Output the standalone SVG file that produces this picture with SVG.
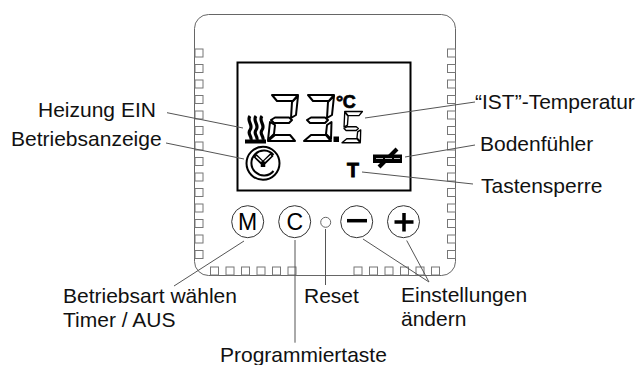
<svg xmlns="http://www.w3.org/2000/svg" width="640" height="365" viewBox="0 0 640 365">
<style>
text{font-family:"Liberation Sans",Arial,sans-serif;font-size:21px;fill:#111}
.b{fill:#fff;stroke:#777;stroke-width:1}
.l{fill:none;stroke:#555;stroke-width:1}
.s{fill:#fff;stroke:#000;stroke-width:2;stroke-linejoin:round}
.btn{fill:#fff;stroke:#333;stroke-width:1}
.key{font-size:23px;text-anchor:middle;fill:#000}
</style>
<defs>
<rect id="sq" class="b" width="8" height="8"/>
<path id="top" class="s" d="M4 0H30L25 6H9Z"/>
<path id="mid" class="s" d="M7 22.500H21L24 25L21 28H6L3 25Z"/>
<path id="bot" class="s" d="M7 40H22L27 46H0Z"/>
<path id="ur" class="s" d="M30 1L28 20L23 23L24 7Z"/>
<path id="lr" class="s" d="M27.500 27L27 44L22 39L23 30Z"/>
<path id="ul" class="s" d="M4 1L9 7L8 20L3 23Z"/>
<path id="ll" class="s" d="M2 27L7 30L6 39L0 45Z"/>
</defs>
<rect width="640" height="365" fill="#fff"/>
<g id="housing">
<rect x="194.500" y="14.500" width="261" height="261" rx="14" fill="#fff" stroke="#666" stroke-width="1"/>
<g id="slots">
<use href="#sq" x="195" y="49"/><use href="#sq" x="195" y="64.500"/><use href="#sq" x="195" y="80"/><use href="#sq" x="195" y="95.500"/><use href="#sq" x="195" y="111"/><use href="#sq" x="195" y="126.500"/><use href="#sq" x="195" y="142"/><use href="#sq" x="195" y="157.500"/><use href="#sq" x="195" y="173"/><use href="#sq" x="195" y="188.500"/><use href="#sq" x="195" y="204"/><use href="#sq" x="195" y="219.500"/><use href="#sq" x="195" y="235"/><use href="#sq" x="195" y="250.500"/>
<use href="#sq" x="447.500" y="49"/><use href="#sq" x="447.500" y="64.500"/><use href="#sq" x="447.500" y="80"/><use href="#sq" x="447.500" y="95.500"/><use href="#sq" x="447.500" y="111"/><use href="#sq" x="447.500" y="126.500"/><use href="#sq" x="447.500" y="142"/><use href="#sq" x="447.500" y="157.500"/><use href="#sq" x="447.500" y="173"/><use href="#sq" x="447.500" y="188.500"/><use href="#sq" x="447.500" y="204"/><use href="#sq" x="447.500" y="219.500"/><use href="#sq" x="447.500" y="235"/><use href="#sq" x="447.500" y="250.500"/>
<use href="#sq" x="210.500" y="267"/><use href="#sq" x="226" y="267"/><use href="#sq" x="241.500" y="267"/><use href="#sq" x="257" y="267"/><use href="#sq" x="272.500" y="267"/><use href="#sq" x="288" y="267"/>
<use href="#sq" x="354" y="267"/><use href="#sq" x="369.500" y="267"/><use href="#sq" x="385" y="267"/><use href="#sq" x="400.500" y="267"/><use href="#sq" x="416" y="267"/><use href="#sq" x="431.500" y="267"/>
</g>
</g>
<g id="display">
<rect x="237.500" y="62.500" width="173" height="128" fill="#fff" stroke="#000" stroke-width="2"/>
<g transform="translate(268 95)"><use href="#top"/><use href="#ur"/><use href="#mid"/><use href="#ll"/><use href="#bot"/></g>
<g transform="translate(304 95)"><use href="#top"/><use href="#ur"/><use href="#mid"/><use href="#lr"/><use href="#bot"/></g>
<rect x="333.500" y="136.500" width="5.500" height="5.500" fill="#000"/>
<g transform="translate(342 111.500) scale(.68)"><use href="#top"/><use href="#ul"/><use href="#mid"/><use href="#lr"/><use href="#bot"/></g>
<text x="336" y="108" style="font-size:18px;font-weight:bold;fill:#000;letter-spacing:-.5px;stroke:#000;stroke-width:.7">°C</text>
</g>
<g id="heat-icon">
<path d="M250 116C246 121 254 125 250 130C247 134 252 136 251 140M256 116C252 121 260 125 256 130C253 134 258 136 257 140M262 116C258 121 266 125 262 130C259 134 264 136 263 140" fill="none" stroke="#000" stroke-width="3.200"/>
<rect x="245" y="139.500" width="21" height="4" fill="#000"/>
</g>
<g id="clock-icon">
<circle cx="263" cy="163.300" r="16.500" fill="#fff" stroke="#000" stroke-width="2"/>
<path d="M273.500 155A12.500 12.500 0 1 0 273.500 171" fill="none" stroke="#000" stroke-width="2"/>
<path d="M263 163.500L255 155.500M263 163.500L272 154.500M263 163.500V167" fill="none" stroke="#000" stroke-width="4.500"/>
<path d="M261.500 161.500L256 156.500M264.500 161.500L271 155.500" fill="none" stroke="#fff" stroke-width="1.300"/>
</g>
<g id="floor-icon">
<rect x="373" y="154.500" width="29" height="8.500" fill="#000"/>
<path d="M397 149L379 167" stroke="#000" stroke-width="4"/>
<path d="M376 158.500H400" stroke="#bbb" stroke-width="1" stroke-dasharray="7 2"/>
</g>
<g id="lock-icon"><text x="347" y="177" style="font-size:19.500px;font-weight:bold;fill:#000;stroke:#000;stroke-width:.9">T</text></g>
<g id="btn-m"><circle class="btn" cx="247.700" cy="221.700" r="16"/><text class="key" x="247.700" y="230">M</text></g>
<g id="btn-c"><circle class="btn" cx="294.700" cy="221.700" r="16"/><text class="key" x="294.700" y="230">C</text></g>
<g id="btn-reset"><circle cx="325.700" cy="222.300" r="5" fill="#fff" stroke="#666"/></g>
<g id="btn-minus"><circle class="btn" cx="356.700" cy="221.700" r="16"/><path d="M347 220.700H367" stroke="#000" stroke-width="3.500"/></g>
<g id="btn-plus"><circle class="btn" cx="403.500" cy="221.700" r="16"/><path d="M394.500 222H413.500M404 213V231.500" stroke="#000" stroke-width="3.500"/></g>
<g id="connectors">
<path class="l" d="M167 112.700L243 128"/>
<path class="l" d="M166 143L244 159"/>
<path class="l" d="M365 118L475 102"/>
<path class="l" d="M405 157L475 145"/>
<path class="l" d="M362 172L473 184"/>
<path class="l" d="M244 241L174 286"/>
<path class="l" d="M295 240V342.700"/>
<path class="l" d="M325.500 229V285"/>
<path class="l" d="M363 239L429 282"/>
<path class="l" d="M406.700 240.500L429 282"/>
</g>
<g id="labels">
<text x="38" y="116.500">Heizung EIN</text>
<text x="11" y="146">Betriebsanzeige</text>
<text x="475" y="109">“IST”-Temperatur</text>
<text x="480" y="151">Bodenfühler</text>
<text x="481" y="193">Tastensperre</text>
<text x="63" y="303">Betriebsart wählen</text>
<text x="63" y="326.500">Timer / AUS</text>
<text x="304" y="303">Reset</text>
<text x="401" y="302">Einstellungen</text>
<text x="401" y="326">ändern</text>
<text x="220" y="362">Programmiertaste</text>
</g>
</svg>
